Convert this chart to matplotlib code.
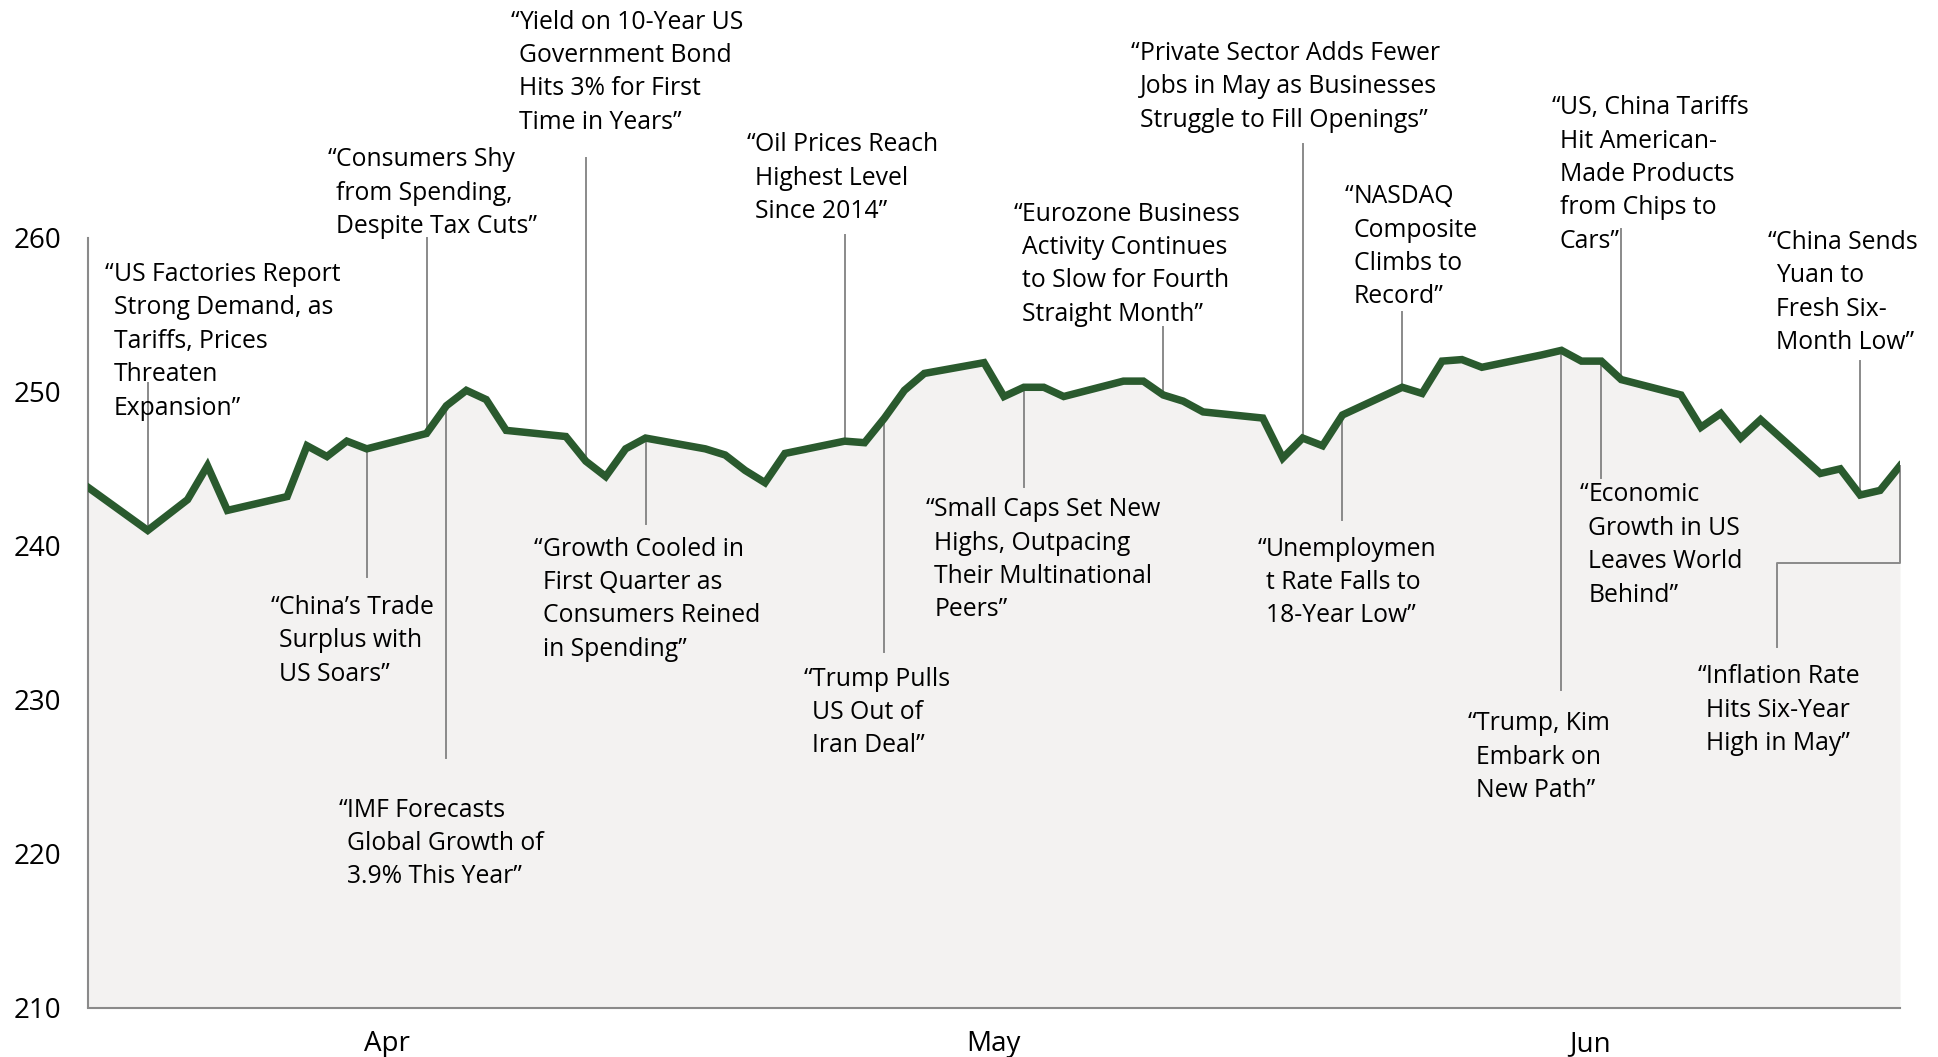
import pandas as pd
import matplotlib.pyplot as plt
import matplotlib.dates as mdates
import matplotlib.transforms as mtransforms

plt.rcParams['font.family'] = ['Open Sans', 'DejaVu Sans']

# trading days, end of Q1 to end of Q2 2018
dates = pd.bdate_range('2018-03-30', '2018-06-29')
values = [
    243.8,
    241.0, 242.0, 243.0, 245.2, 242.3,
    243.2, 246.5, 245.8, 246.8, 246.3,
    247.3, 249.1, 250.1, 249.5, 247.5,
    247.1, 245.5, 244.5, 246.3, 247.0,
    246.3, 245.9, 244.9, 244.1, 246.0,
    246.8, 246.7, 248.3, 250.1, 251.2,
    251.9, 249.7, 250.3, 250.3, 249.7,
    250.7, 250.7, 249.8, 249.4, 248.7,
    248.3, 245.7, 247.0, 246.5, 248.5,
    250.3, 249.9, 252.0, 252.1, 251.6,
    252.4, 252.7, 252.0, 252.0, 250.8,
    249.8, 247.7, 248.6, 247.0, 248.2,
    244.7, 245.0, 243.3, 243.6, 245.2,
]
series = pd.Series(values, index=dates)

month_labels = ['Apr', 'May', 'Jun']
month_label_dates = ['2018-04-14', '2018-05-14 11:00', '2018-06-13 10:00']
y_ticks = [210, 220, 230, 240, 250, 260]

event_dates = ['2018-04-02', '2018-04-16', '2018-04-13', '2018-04-17', '2018-04-24',
               '2018-04-27', '2018-05-07', '2018-05-09', '2018-05-16', '2018-05-23',
               '2018-05-30', '2018-06-01', '2018-06-04', '2018-06-12', '2018-06-14',
               '2018-06-15', '2018-06-27', '2018-06-29']
headlines = [
    ['US Factories Report', 'Strong Demand, as', 'Tariffs, Prices', 'Threaten', 'Expansion\u201d'],
    ['Consumers Shy', 'from Spending,', 'Despite Tax Cuts\u201d'],
    ['China\u2019s Trade', 'Surplus with', 'US Soars\u201d'],
    ['IMF Forecasts', 'Global Growth of', '3.9% This Year\u201d'],
    ['Yield on 10-Year US', 'Government Bond', 'Hits 3% for First', 'Time in Years\u201d'],
    ['Growth Cooled in', 'First Quarter as', 'Consumers Reined', 'in Spending\u201d'],
    ['Oil Prices Reach', 'Highest Level', 'Since 2014\u201d'],
    ['Trump Pulls', 'US Out of', 'Iran Deal\u201d'],
    ['Small Caps Set New', 'Highs, Outpacing', 'Their Multinational', 'Peers\u201d'],
    ['Eurozone Business', 'Activity Continues', 'to Slow for Fourth', 'Straight Month\u201d'],
    ['Private Sector Adds Fewer', 'Jobs in May as Businesses', 'Struggle to Fill Openings\u201d'],
    ['Unemploymen', 't Rate Falls to', '18-Year Low\u201d'],
    ['NASDAQ', 'Composite', 'Climbs to', 'Record\u201d'],
    ['Trump, Kim', 'Embark on', 'New Path\u201d'],
    ['Economic', 'Growth in US', 'Leaves World', 'Behind\u201d'],
    ['US, China Tariffs', 'Hit American-', 'Made Products', 'from Chips to', 'Cars\u201d'],
    ['China Sends', 'Yuan to', 'Fresh Six-', 'Month Low\u201d'],
    ['Inflation Rate', 'Hits Six-Year', 'High in May\u201d'],
]
leader_ends = [250.6, 260.0, 238.0, 226.2, 265.2, 241.4, 260.2, 233.1, 243.8,
               254.2, 266.1, 241.7, 255.2, 230.6, 244.4, 260.6, 252.0, 238.9]

# layout: where each headline sits (days after start, baseline of first line)
text_days = [1.29, 12.46, 9.61, 13.02, 21.65, 22.83, 33.51, 36.36, 42.51,
             46.92, 52.82, 59.15, 63.56, 69.7, 75.35, 73.92, 84.79, 81.25]
text_base = [257.2, 264.67, 235.58, 222.4, 273.6, 239.36, 265.63, 230.92, 241.92,
             261.13, 271.58, 239.36, 262.26, 228.0, 242.89, 268.04, 259.28, 231.07]
inflation_elbow = (84.8, 233.4)

LINE_GAP = 33.4
TEXT_SIZE = 17.8
GREEN = '#2a5a2e'
GREY = '#8a8a8a'

fig = plt.figure(figsize=(19.38, 10.57), dpi=100)
ax = fig.add_axes([88 / 1938, 49.5 / 1057, 1812 / 1938, 769.5 / 1057])

ax.fill_between(dates, values, 210, color='#f3f2f1', lw=0, zorder=1)
ax.plot(dates, values, color=GREEN, lw=5.4, solid_joinstyle='miter', zorder=4)

start = dates[0]
for d, end in zip(event_dates[:-1], leader_ends[:-1]):
    d = pd.Timestamp(d)
    ax.plot([d, d], [series[d], end], color=GREY, lw=1.4, zorder=3, clip_on=False)

# last headline uses an elbow connector
d = pd.Timestamp(event_dates[-1])
ex = start + pd.Timedelta(days=inflation_elbow[0])
ax.plot([d, d, ex, ex], [series[d], leader_ends[-1], leader_ends[-1], inflation_elbow[1]],
        color=GREY, lw=1.4, zorder=3, clip_on=False)

for day, base, lines in zip(text_days, text_base, headlines):
    x = mdates.date2num(start + pd.Timedelta(days=day))
    ax.text(x, base, '\u201c', ha='right', va='baseline', fontsize=TEXT_SIZE,
            color='black', zorder=5)
    for i, line in enumerate(lines):
        tr = mtransforms.offset_copy(ax.transData, fig=fig, x=0, y=-i * LINE_GAP, units='dots')
        ax.text(x, base, line, transform=tr, ha='left', va='baseline',
                fontsize=TEXT_SIZE, color='black', zorder=5)

ax.set_xlim(dates[0], dates[-1])
ax.set_ylim(210, 260)
ax.set_yticks(y_ticks)
ax.set_xticks([mdates.date2num(pd.Timestamp(m)) for m in month_label_dates])
ax.set_xticklabels(month_labels)
ax.tick_params(axis='both', length=0, labelsize=20, colors='black')
ax.tick_params(axis='y', pad=19)
ax.tick_params(axis='x', pad=16)

for s in ['top', 'right']:
    ax.spines[s].set_visible(False)
for s in ['left', 'bottom']:
    ax.spines[s].set_color(GREY)
    ax.spines[s].set_linewidth(1.5)
ax.patch.set_alpha(0)

fig.savefig('out.png', dpi=100)
